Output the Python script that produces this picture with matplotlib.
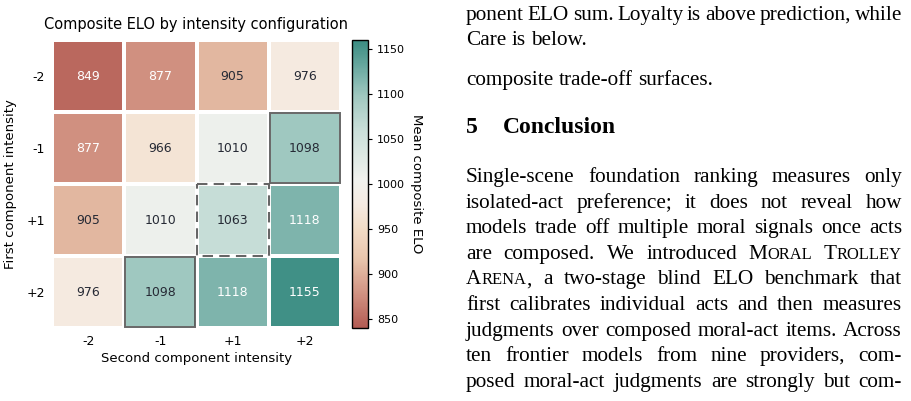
import numpy as np
import matplotlib
matplotlib.use("Agg")
import matplotlib.pyplot as plt
from matplotlib.colors import LinearSegmentedColormap, Normalize
from matplotlib.patches import Rectangle

# --- data ---
first_levels = ["-2", "-1", "+1", "+2"]
second_levels = ["-2", "-1", "+1", "+2"]
elo = np.array([
    [849, 877, 905, 976],
    [877, 966, 1010, 1098],
    [905, 1010, 1063, 1118],
    [976, 1098, 1118, 1155],
])
solid_cells = [(1, 3), (3, 1)]   # (row, col)
dashed_cells = [(2, 2)]
cbar_ticks = [850, 900, 950, 1000, 1050, 1100, 1150]

# body text of the page, one entry per line; "^" marks small caps words
body_top = [
    ("ponent ELO sum.  Loyalty is above prediction, while", True),
    ("Care is below.", False),
]
body_mid = [("composite trade-off surfaces.", False)]
heading_num = "5"
heading_txt = "Conclusion"
body_end = [
    ("Single-scene foundation ranking measures only", True),
    ("isolated-act preference; it does not reveal how", True),
    ("models trade off multiple moral signals once acts", True),
    ("are composed. We introduced ^MORAL ^TROLLEY", True),
    ("^ARENA, a two-stage blind ELO benchmark that", True),
    ("first calibrates individual acts and then measures", True),
    ("judgments over composed moral-act items. Across", True),
    ("ten frontier models from nine providers, com-", True),
    ("posed moral-act judgments are strongly but com-", True),
]

W, H = 912, 401
fig = plt.figure(figsize=(W / 100, H / 100), dpi=100)


def px_axes(l, t, r, b):
    return fig.add_axes([l / W, 1 - b / H, (r - l) / W, (b - t) / H])


# --- heatmap ---
anchors = [(840, "#b35b53"), (877, "#d09181"), (915, "#e8c4ab"), (950, "#f2dcc6"),
           (978, "#f5ebe2"), (1005, "#f1f2ee"), (1060, "#cadfd9"), (1098, "#a0c8c0"),
           (1118, "#7fb5ad"), (1160, "#3a8c82")]
lo, hi = 840, 1160
cmap = LinearSegmentedColormap.from_list(
    "elo", [((v - lo) / (hi - lo), c) for v, c in anchors])
norm = Normalize(lo, hi)

ax = px_axes(52, 40, 341, 328)
mesh = ax.pcolormesh(elo, cmap=cmap, norm=norm, edgecolors="white", linewidth=1.5)
ax.set_xlim(0, 4)
ax.set_ylim(4, 0)
ax.set_xticks(np.arange(4) + 0.5, second_levels)
ax.set_yticks(np.arange(4) + 0.5, first_levels)
ax.tick_params(length=0, labelsize=9, pad=5)
for s in ax.spines.values():
    s.set_visible(False)

for i in range(4):
    for j in range(4):
        v = elo[i, j]
        col = "white" if (v < 890 or v > 1110) else "#262a35"
        ax.text(j + 0.5, i + 0.5, f"{v}", ha="center", va="center", fontsize=9, color=col)

ins = 0.015
for (r, c) in solid_cells:
    ax.add_patch(Rectangle((c + ins, r + ins), 1 - 2 * ins, 1 - 2 * ins, fill=False,
                           edgecolor="#4d4d4d", lw=1.4, alpha=0.85))
for (r, c) in dashed_cells:
    ax.add_patch(Rectangle((c, r), 1, 1, fill=False, edgecolor="#666666",
                           lw=1.5, ls=(0, (5, 3))))

ax.set_title("Composite ELO by intensity configuration", fontsize=10.5, pad=8)
ax.set_xlabel("Second component intensity", fontsize=9.5, labelpad=3)
ax.set_ylabel("First component intensity", fontsize=9.5, labelpad=7)

cax = px_axes(352, 40, 368, 328)
cb = fig.colorbar(mesh, cax=cax)
cb.set_ticks(cbar_ticks)
cb.ax.tick_params(labelsize=8, length=3)
cb.outline.set_linewidth(1.0)
cb.set_label("Mean composite ELO", rotation=270, fontsize=9.5, labelpad=13)

# --- page text on the right ---
renderer = fig.canvas.get_renderer()
SERIF = "Liberation Serif"
BODY = 15.3
SC = BODY * 0.78
X0, X1 = 466, 902


def measure(s, size, weight="normal"):
    t = fig.text(0, 0, s, fontsize=size, family=SERIF, weight=weight)
    w = t.get_window_extent(renderer).width
    t.remove()
    return w


def pieces(word):
    if not word.startswith("^"):
        return [(word, BODY)]
    word = word[1:]
    core = word.rstrip(",.")
    tail = word[len(core):]
    out = [(core[0], BODY), (core[1:], SC)]
    if tail:
        out.append((tail, BODY))
    return out


space_w = measure("a a", BODY) - measure("aa", BODY)


def put_line(line, base, justify):
    words = [pieces(w) for w in line.split()]
    widths = [[measure(s, z) for s, z in w] for w in words]
    total = sum(sum(w) for w in widths)
    gap = (X1 - X0 - total) / (len(words) - 1) if justify else space_w
    x = X0
    for w, ws in zip(words, widths):
        for (s, z), pw in zip(w, ws):
            fig.text(x / W, 1 - base / H, s, fontsize=z, family=SERIF, va="baseline")
            x += pw
        x += gap


for k, (line, just) in enumerate(body_top):
    put_line(line, 20 + 24.8 * k, just)
for line, just in body_mid:
    put_line(line, 85, just)

fig.text(X0 / W, 1 - 133 / H, heading_num, fontsize=17, family=SERIF, weight="bold", va="baseline")
fig.text(503 / W, 1 - 133 / H, heading_txt, fontsize=17, family=SERIF, weight="bold", va="baseline")

for k, (line, just) in enumerate(body_end):
    put_line(line, 182 + 25.6 * k, just)

fig.savefig("out.png", dpi=100)
